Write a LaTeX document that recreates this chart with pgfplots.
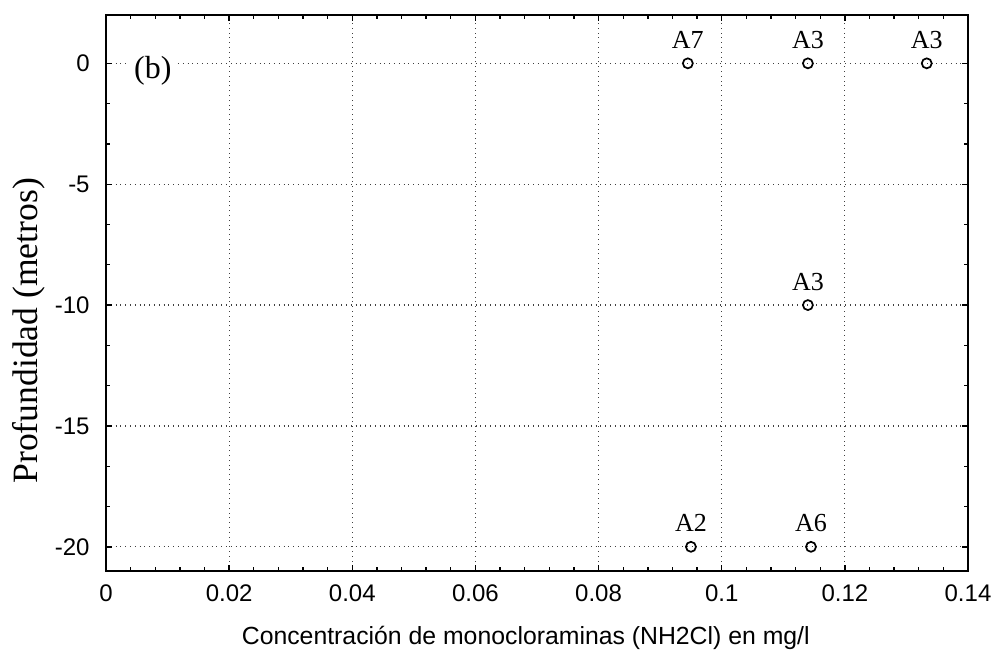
\documentclass[border=0pt]{standalone}
\usepackage{fontspec}
\setmainfont{Liberation Serif}
\newfontfamily\arial{Liberation Sans}
\usepackage{pgfplots}
\pgfplotsset{compat=1.18}
\usetikzlibrary{calc}

\begin{document}
\begin{tikzpicture}
\begin{axis}[
 scale only axis, width=431pt, height=278pt,
 xmin=0, xmax=0.14, ymin=-21, ymax=2,
 xtick={0,0.02,0.04,0.06,0.08,0.1,0.12,0.14},
 xticklabels={0,0.02,0.04,0.06,0.08,0.1,0.12,0.14},
 ytick={-20,-15,-10,-5,0},
 yticklabels={-20,-15,-10,-5,0},
 minor x tick num=4, minor y tick num=2,
 tick align=inside, major tick length=3pt, minor tick length=2pt,
 tick style={black, line width=0.7pt},
 axis line style={line width=1.1pt},
 grid=major, grid style={black!75, dotted, line width=0.6pt},
 xticklabel style={font=\arial\fontsize{12}{13}\selectfont, anchor=base, inner sep=0pt, yshift=-15.5pt},
 yticklabel style={font=\arial\fontsize{12}{13}\selectfont, anchor=east, inner sep=0pt, xshift=-8pt},
 xlabel={Concentración de monocloraminas (NH2Cl) en mg/l},
 xlabel style={font=\arial\fontsize{12.4}{14}\selectfont, at={(axis description cs:0.487,-0.133)}, anchor=base},
 ylabel={Profundidad (metros)},
 ylabel style={font=\fontsize{17.8}{19}\selectfont, at={(axis description cs:-0.0893,0.432)}, anchor=center},
 point meta=explicit symbolic,
 nodes near coords,
 every node near coord/.append style={font=\fontsize{13}{14}\selectfont, anchor=base, inner sep=0pt, yshift=7.5pt},
 clip=false,
]
\addplot[only marks, mark=o, mark size=2.5pt, mark options={black, fill=white, line width=0.85pt}]
 coordinates {
 (0.0945,0)[A7]
 (0.1140,0)[A3]
 (0.1333,0)[A3]
 (0.1140,-10)[A3]
 (0.0950,-20)[A2]
 (0.1145,-20)[A6]
 };
\node[fill=white, inner sep=3pt, font=\fontsize{16}{18}\selectfont] at (axis cs:0.0076,-0.3) {(b)};
\end{axis}
\path ($(current axis.south west)+(-53pt,-40pt)$) rectangle ($(current axis.north east)+(14.5pt,7.5pt)$);
\end{tikzpicture}
\end{document}
